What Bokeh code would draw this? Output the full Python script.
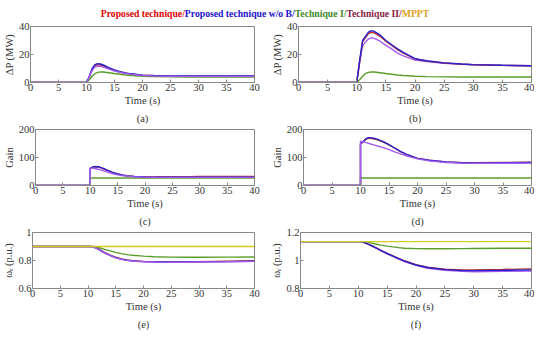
from bokeh.plotting import figure
from bokeh.layouts import column, row
from bokeh.models import Range1d, FixedTicker, Title, Div, CustomJSTickFormatter
from bokeh.embed import file_html
from bokeh.resources import INLINE

# ---------------- data ----------------
t = [0, 10, 10, 10.5, 11, 11.5, 12, 12.5, 13, 14, 15, 16, 17, 18, 20, 22, 25, 28, 30, 35, 40]

# (a) Delta P, case 1
a_prop = [0, 0, 0, 4, 9, 12, 12.8, 12.5, 11.8, 10, 8.6, 7.5, 6.6, 6, 5.2, 4.9, 4.6, 4.5, 4.5, 4.5, 4.5]
a_wob = [0, 0, 0, 4.5, 10, 12.8, 13.5, 13.2, 12.5, 10.6, 9.0, 7.8, 6.9, 6.2, 5.3, 5.0, 4.8, 4.7, 4.7, 4.7, 4.7]
a_t1 = [0, 0, 0, 2, 4.5, 6.3, 7.2, 7.5, 7.5, 7.0, 6.4, 5.9, 5.4, 5.0, 4.5, 4.2, 4.0, 3.9, 3.9, 3.9, 3.9]
a_t2 = [0, 0, 0, 4, 8.5, 11, 11.8, 11.6, 11, 9.5, 8.2, 7.2, 6.4, 5.8, 5.0, 4.7, 4.5, 4.4, 4.4, 4.4, 4.4]

# (b) Delta P, case 2
b_prop = [0, 0, 0, 15, 29, 32, 35, 35.8, 35.5, 33, 29.5, 26.5, 23.5, 21, 16.8, 15.3, 13.9, 13.1, 12.7, 12.2, 12]
b_wob = [0, 0, 0, 16, 30, 33, 36, 37, 36.5, 34, 30, 27, 24, 21.5, 17, 15.5, 14, 13.2, 12.8, 12.3, 12]
b_t1 = [0, 0, 0, 2, 4.5, 6.3, 7.2, 7.5, 7.5, 7.0, 6.4, 5.9, 5.4, 5.0, 4.5, 4.2, 4.0, 3.9, 3.9, 3.9, 3.9]
b_t2 = [0, 0, 0, 14, 26, 29, 31, 32, 31.5, 29.5, 26.5, 24, 21, 19, 16, 15, 13.8, 13, 12.7, 12.2, 12]

# (c) Gain, case 1
c_prop = [0, 0, 61, 65, 67, 66, 63, 59, 55, 47, 41, 37, 34, 32.5, 31, 31, 31, 31.5, 32, 32, 32]
c_wob = [0, 0, 62, 66, 68, 67, 64, 60, 56, 48, 41, 37, 34, 32, 30.5, 30, 29.5, 29.5, 29.5, 29.5, 29.5]
c_t1 = [0, 0, 27, 27, 27, 27, 27, 27, 27, 27, 27, 27, 27, 27, 27, 27, 27, 27, 27, 27, 27]
c_t2 = [0, 0, 62, 62, 60, 58, 55, 52, 49, 43, 38, 35, 33, 31.5, 30, 29.5, 29, 29, 29, 29, 29]

# (d) Gain, case 2
d_prop = [0, 0, 148, 156, 166, 169, 168, 166, 163, 155, 145, 133, 121, 111, 97, 90, 84, 81.5, 81, 82, 83]
d_wob = [0, 0, 150, 158, 168, 171, 170, 168, 165, 157, 146, 134, 122, 112, 97, 90, 84, 81, 80, 81, 82]
d_t1 = [0, 0, 27, 27, 27, 27, 27, 27, 27, 27, 27, 27, 27, 27, 27, 27, 27, 27, 27, 27, 27]
d_t2 = [0, 0, 158, 156, 153, 150, 147, 144, 141, 135, 128, 120, 113, 106, 95, 88, 82, 80, 79, 79.5, 80]

# (e) rotor speed, case 1
e_prop = [.9, .9, .9, .9, .897, .89, .879, .868, .857, .838, .823, .812, .804, .799, .794, .792, .791, .791, .792, .795, .798]
e_wob = [.9, .9, .9, .9, .896, .888, .877, .866, .855, .836, .821, .81, .802, .797, .792, .79, .789, .789, .79, .792, .795]
e_t1 = [.9, .9, .9, .9, .9, .897, .892, .886, .88, .869, .858, .849, .842, .837, .831, .827, .824, .823, .823, .824, .825]
e_t2 = [.9, .9, .9, .9, .895, .886, .875, .864, .853, .834, .819, .808, .801, .796, .791, .789, .788, .788, .789, .791, .794]
e_mppt = [.9] * 21

# (f) rotor speed, case 2
f_prop = [1.135, 1.135, 1.135, 1.135, 1.129, 1.121, 1.112, 1.102, 1.092, 1.071, 1.051, 1.033, 1.015, 0.998, 0.97, 0.952, 0.938, 0.933, 0.933, 0.936, 0.94]
f_wob = [1.135, 1.135, 1.135, 1.135, 1.129, 1.121, 1.112, 1.102, 1.092, 1.07, 1.05, 1.032, 1.013, 0.996, 0.968, 0.95, 0.935, 0.929, 0.928, 0.93, 0.933]
f_t1 = [1.135, 1.135, 1.135, 1.135, 1.135, 1.133, 1.128, 1.123, 1.118, 1.11, 1.103, 1.097, 1.092, 1.088, 1.085, 1.084, 1.084, 1.085, 1.086, 1.087, 1.088]
f_t2 = [1.135, 1.135, 1.135, 1.135, 1.128, 1.12, 1.11, 1.1, 1.09, 1.068, 1.048, 1.03, 1.01, 0.993, 0.965, 0.945, 0.93, 0.922, 0.92, 0.922, 0.925]
f_mppt = [1.135] * 21

x_ticks = [0, 5, 10, 15, 20, 25, 30, 35, 40]

# ---------------- style ----------------
C_PROP = "#b8322a"
C_WOB = "#2a22cc"
C_T1 = "#5a9e2a"
C_T2 = "#a45cf2"
C_MPPT = "#d6cc1e"
FONT = "Liberation Serif"
TXT = "#333333"
LW = 1.4


def make(series, yr, yticks, ylabel, tag, left, right, width):
    p = figure(width=width, height=103, output_backend="svg", toolbar_location=None,
               x_range=Range1d(0, 40), y_range=Range1d(*yr),
               min_border_left=left, min_border_right=right, min_border_top=4, min_border_bottom=0)
    for ys, col in series:
        p.line(t, ys, line_color=col, line_width=LW)
    p.grid.visible = False
    p.outline_line_color = "#888888"
    p.xaxis.ticker = FixedTicker(ticks=x_ticks)
    p.yaxis.ticker = FixedTicker(ticks=yticks)
    p.xaxis.axis_label = "Time (s)"
    p.yaxis.axis_label = ylabel
    p.axis.axis_line_color = "#888888"
    p.axis.major_tick_line_color = "#888888"
    p.axis.major_tick_in = 3
    p.axis.major_tick_out = 0
    p.axis.minor_tick_line_color = None
    p.axis.major_label_text_font = FONT
    p.axis.major_label_text_font_size = "10.5px"
    p.axis.major_label_text_color = TXT
    p.axis.axis_label_text_font = FONT
    p.axis.axis_label_text_font_size = "10.5px"
    p.axis.axis_label_text_font_style = "normal"
    p.axis.axis_label_text_color = TXT
    p.axis.major_label_standoff = 1
    p.axis.axis_label_standoff = 1
    p.add_layout(Title(text=tag, align="center", text_font=FONT, text_font_size="10.5px",
                       text_font_style="normal", text_color=TXT, standoff=4, offset=0), "below")
    return p


LW_ = 268
RW_ = 266
pa = make([(a_t1, C_T1), (a_prop, C_PROP), (a_wob, C_WOB), (a_t2, C_T2)],
          (0, 40), [0, 20, 40], "ΔP (MW)", "(a)", 28, 14, LW_)
pb = make([(b_t1, C_T1), (b_t2, C_T2), (b_prop, C_PROP), (b_wob, C_WOB)],
          (0, 40), [0, 20, 40], "ΔP (MW)", "(b)", 28, 3, RW_)
pc = make([(c_t1, C_T1), (c_prop, C_PROP), (c_wob, C_WOB), (c_t2, C_T2)],
          (0, 200), [0, 100, 200], "Gain", "(c)", 28, 14, LW_)
pd = make([(d_t1, C_T1), (d_prop, C_PROP), (d_wob, C_WOB), (d_t2, C_T2)],
          (0, 200), [0, 100, 200], "Gain", "(d)", 28, 3, RW_)
pe = make([(e_t1, C_T1), (e_prop, C_PROP), (e_wob, C_WOB), (e_t2, C_T2), (e_mppt, C_MPPT)],
          (0.6, 1.0), [0.6, 0.8, 1.0], "ωᵣ (p.u.)", "(e)", 28, 14, LW_)
pf = make([(f_t1, C_T1), (f_t2, C_T2), (f_prop, C_PROP), (f_wob, C_WOB), (f_mppt, C_MPPT)],
          (0.8, 1.2), [0.8, 1.0, 1.2], "ωᵣ (p.u.)", "(f)", 28, 3, RW_)

fmt = CustomJSTickFormatter(code="return (Math.abs(tick-1)<1e-9) ? '1' : tick.toFixed(1);")
pe.yaxis.formatter = fmt
pf.yaxis.formatter = fmt

legend_html = (
    "<div style=\"text-align:center;font-family:'Liberation Serif','Times New Roman',serif;font-weight:bold;"
    "font-size:9.7px;line-height:12px;white-space:nowrap;width:520px;\">"
    "<span style='color:#e00000'>Proposed technique/</span>"
    "<span style='color:#1a12d0'>Proposed technique w/o B/</span>"
    "<span style='color:#3f8a2a'>Technique I/</span>"
    "<span style='color:#8a1a44'>Technique II/</span>"
    "<span style='color:#dca020'>MPPT</span></div>"
)
leg = Div(text=legend_html, width=534, height=12)

layout = column(leg, row(pa, pb), row(pc, pd), row(pe, pf))
open("out.html", "w").write(file_html(layout, INLINE))
